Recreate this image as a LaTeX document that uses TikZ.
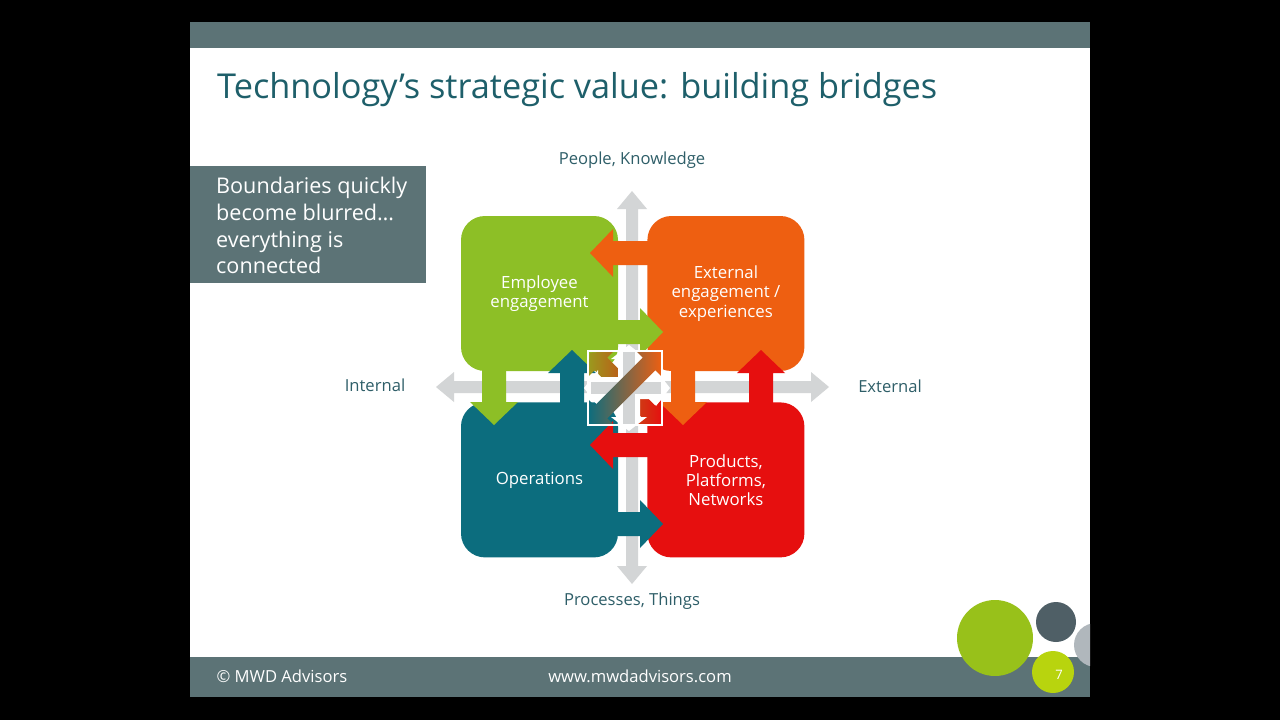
\documentclass[tikz,border=0pt]{standalone}
\usepackage{fontspec}
\setmainfont{Open Sans}
\usetikzlibrary{positioning}
\definecolor{slidebar}{HTML}{5C7376}
\definecolor{titleteal}{HTML}{1E5F6A}
\definecolor{labelteal}{HTML}{2E5E68}
\definecolor{qgreen}{HTML}{8DBF26}
\definecolor{qorange}{HTML}{EE5F11}
\definecolor{qteal}{HTML}{0C6D7E}
\definecolor{qred}{HTML}{E60F0F}
\definecolor{qolive}{HTML}{9A9A1E}
\definecolor{axisgray}{HTML}{D3D5D6}
\definecolor{dotgreen}{HTML}{98C11A}
\definecolor{dotlime}{HTML}{B8D40E}
\definecolor{dotslate}{HTML}{4F5F66}
\definecolor{dotgray}{HTML}{B0B7BC}

\begin{document}
\begin{tikzpicture}[x=1pt, y=-1pt,
  quad/.style={fill=#1, rounded corners=24pt, minimum width=157pt, minimum height=155pt,
    inner sep=0pt, text=white, align=center, font=\fontsize{16.8}{19.2}\selectfont},
  axislbl/.style={text=labelteal, font=\fontsize{16.6}{19}\selectfont},
  foot/.style={text=white, font=\fontsize{16.6}{19}\selectfont}
]
\useasboundingbox (0,0) rectangle (1280,720);
\fill[black] (0,0) rectangle (1280,720);
\fill[white] (190,22) rectangle (1090,697);
\fill[slidebar] (190,22) rectangle (1090,48);
\fill[slidebar] (190,657) rectangle (1090,697);

\node[anchor=base west, inner sep=0pt, text=titleteal, font=\fontsize{34.3}{40}\selectfont] (title) at (217,98)
  {Technology’s strategic value: building bridges};

\fill[slidebar] (190,166) rectangle (426,283);
\node[anchor=north west, inner sep=0pt, align=left, text=white, font=\fontsize{21.6}{26.7}\selectfont] (blurb) at (216,177)
  {Boundaries quickly\\become blurred…\\everything is\\connected};

% axes
\fill[axisgray] (632,191) -- (647,209) -- (638,209) -- (638,566) -- (647,566) -- (632,584)
  -- (617,566) -- (626,566) -- (626,209) -- (617,209) -- cycle;
\fill[axisgray] (436,387) -- (454,372) -- (454,381) -- (811,381) -- (811,372) -- (829,387)
  -- (811,402) -- (811,393) -- (454,393) -- (454,402) -- cycle;
\node[axislbl] (people) at (632,160) {People, Knowledge};
\node[axislbl] (processes) at (632,601) {Processes, Things};
\node[axislbl] (internal) at (375,385) {Internal};
\node[axislbl] (external) at (890,386) {External};

% quadrants
\node[quad=qgreen] (employee) at (539.5,293.5) {Employee\\engagement};
\node[quad=qorange, right=29pt of employee] (experiences) {External\\engagement /\\experiences};
\node[quad=qteal, below=31pt of employee] (operations) {Operations};
\node[quad=qred, below=31pt of experiences] (products) {Products,\\Platforms,\\Networks};

% bridges
\fill[qorange] (660,241) -- (613,241) -- (613,229) -- (590,253) -- (613,277) -- (613,265) -- (660,265) -- cycle;
\fill[qgreen] (605,320) -- (640,320) -- (640,308) -- (663,332) -- (640,356) -- (640,344) -- (605,344) -- cycle;
\fill[qred] (660,433) -- (613,433) -- (613,421) -- (590,445) -- (613,469) -- (613,457) -- (660,457) -- cycle;
\fill[qteal] (605,512) -- (640,512) -- (640,500) -- (663,524) -- (640,548) -- (640,536) -- (605,536) -- cycle;
\fill[qgreen] (482,360) -- (482,402) -- (470,402) -- (494,425) -- (518,402) -- (506,402) -- (506,360) -- cycle;
\fill[qteal] (560,415) -- (560,373) -- (548,373) -- (572,350) -- (596,373) -- (584,373) -- (584,415) -- cycle;
\fill[qorange] (671,360) -- (671,402) -- (659,402) -- (683,425) -- (707,402) -- (695,402) -- (695,360) -- cycle;
\fill[qred] (749,415) -- (749,373) -- (737,373) -- (761,350) -- (785,373) -- (773,373) -- (773,415) -- cycle;

% centre
\begin{scope}[shift={(625,388)}, rotate=-45]
  \shade[left color=qolive, right color=qred] (-50,0) -- (-34,-18) -- (-34,-9) -- (34,-9) -- (34,-18)
    -- (50,0) -- (34,18) -- (34,9) -- (-34,9) -- (-34,18) -- cycle;
\end{scope}
\fill[white] (629,345) -- (647,359) -- (640,359) -- (640,417) -- (647,417) -- (629,431)
  -- (611,417) -- (618,417) -- (618,359) -- (611,359) -- cycle;
\fill[white] (584,388) -- (598,370) -- (598,377) -- (656,377) -- (656,370) -- (670,388)
  -- (656,406) -- (656,399) -- (598,399) -- (598,406) -- cycle;
\fill[axisgray] (623,352) rectangle (635,424);
\fill[axisgray] (591,382) rectangle (663,394);
\begin{scope}[shift={(625,388)}, rotate=45]
  \shade[left color=qteal, middle color=gray!80, right color=qorange] (-50,0) -- (-34,-18) -- (-34,-9)
    -- (34,-9) -- (34,-18) -- (50,0) -- (34,18) -- (34,9) -- (-34,9) -- (-34,18) -- cycle;
\end{scope}
\draw[white, line width=1.2pt] (588,351) rectangle (662,425);

% footer
\begin{scope}
  \clip (190,22) rectangle (1090,697);
  \fill[dotgreen] (995,638) circle (38pt);
  \fill[dotslate] (1056,622) circle (20pt);
  \fill[dotgray] (1096,645) circle (22pt);
  \fill[dotlime] (1053,672) circle (21pt);
\end{scope}
\node[text=white, font=\fontsize{13}{15}\selectfont] (pagenum) at (1059,675) {7};
\node[foot, anchor=west] (copyright) at (213,676) {© MWD Advisors};
\node[foot] (website) at (640,676) {www.mwdadvisors.com};
\end{tikzpicture}
\end{document}
